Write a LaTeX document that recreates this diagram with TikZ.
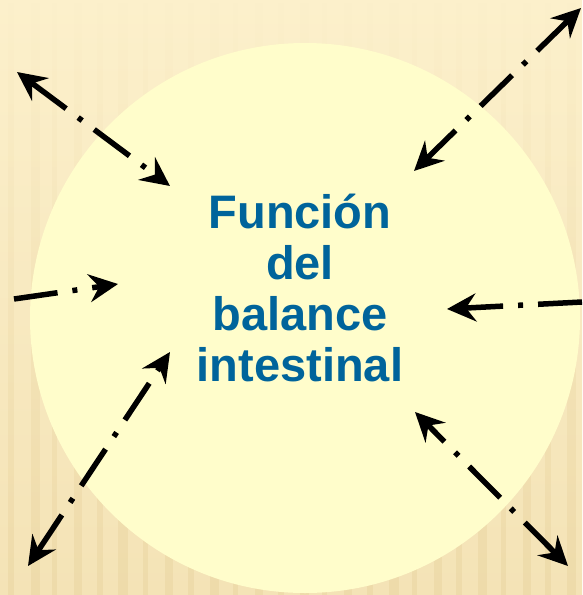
\documentclass[tikz,border=0pt]{standalone}
\usepackage{fontspec}
\newfontfamily\arialfont{Liberation Sans}
\usetikzlibrary{arrows.meta,fadings}
\definecolor{bgtop}{HTML}{FCF0CB}
\definecolor{bgbot}{HTML}{F4E3B6}
\definecolor{stripe}{HTML}{E2C98F}
\definecolor{circfill}{HTML}{FFFDCB}
\definecolor{txtblue}{HTML}{00649B}
\tikzset{
  dda/.style={line width=5.5pt, black,
    dash pattern=on 44pt off 15pt on 5pt off 15pt},
  tipb/.style={-{Stealth[length=29pt,width=28pt,inset=10pt]}},
  tipbb/.style={{Stealth[length=29pt,width=28pt,inset=10pt]}-{Stealth[length=29pt,width=28pt,inset=10pt]}},
  bandstripe/.style={fill=stripe, opacity=0.3, path fading=north}
}
\begin{document}
\begin{tikzpicture}[x=1pt,y=-1pt]
  % background
  \useasboundingbox (0,0) rectangle (582,595);
  \shade[top color=bgtop, bottom color=bgbot] (0,0) rectangle (582,595);
  \foreach \sx/\sw in {8/6,31/9,52/5,74/8,97/6,118/10,143/5,165/8,188/6,210/9,233/5,255/8,278/6,300/9,322/5,344/8,367/6,389/10,412/5,434/8,456/6,478/9,501/5,523/8,545/6,567/9}{
    \fill[bandstripe] (\sx,0) rectangle ++(\sw,595);
  }
  % circle
  \fill[circfill] (305,318) circle[radius=275];
  % central text
  \node[font=\arialfont\bfseries\fontsize{47}{51}\selectfont, text=txtblue,
        align=center, inner sep=0pt, anchor=south] (title) at (300,382)
        {Función\\del\\balance\\intestinal};
  % end points
  \coordinate (a1o) at (17,72);   \coordinate (a1i) at (170,186);
  \coordinate (a2o) at (581,8);   \coordinate (a2i) at (414,171);
  \coordinate (a3o) at (14,299);  \coordinate (a3i) at (118,284);
  \coordinate (a4o) at (582,302); \coordinate (a4i) at (447,309);
  \coordinate (a5o) at (28,566);  \coordinate (a5i) at (170,352);
  \coordinate (a6o) at (568,566); \coordinate (a6i) at (415,412);
  % connectors
  \draw[dda,tipbb] (a1o) -- (a1i);
  \draw[dda,tipbb] (a2o) -- (a2i);
  \draw[dda,tipb]  (a3o) -- (a3i);
  \draw[dda,tipb]  (a4o) -- (a4i);
  \draw[dda,tipbb] (a5o) -- (a5i);
  \draw[dda,tipbb] (a6o) -- (a6i);
\end{tikzpicture}
\end{document}
